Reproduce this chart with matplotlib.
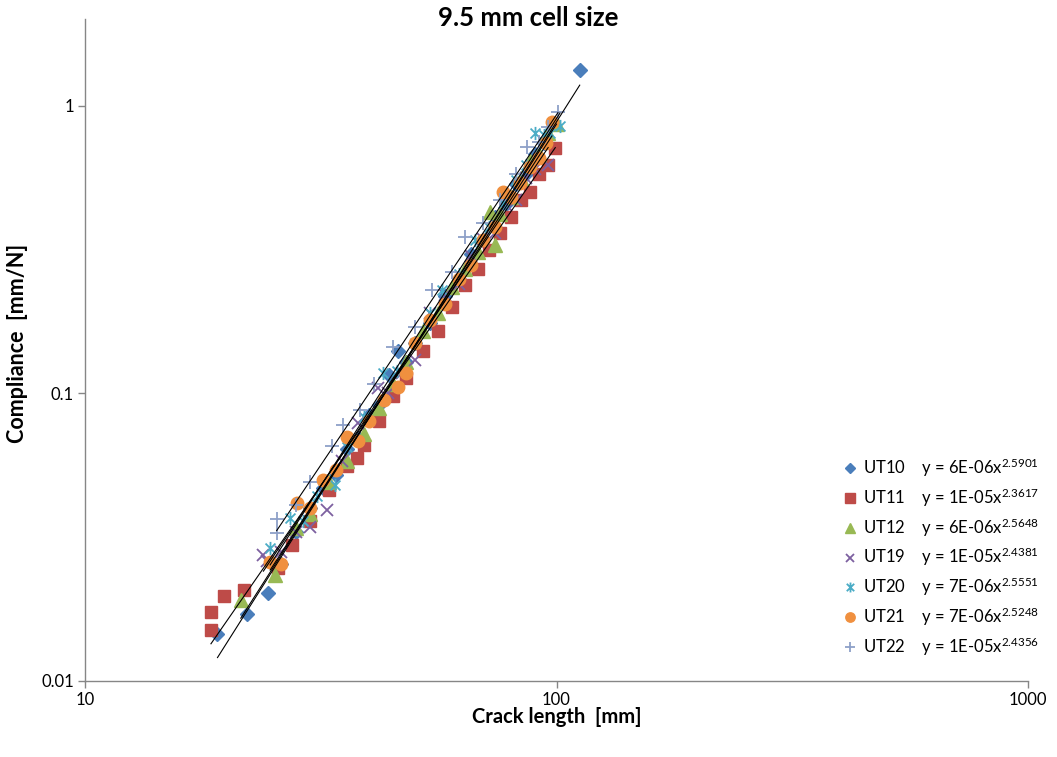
import numpy as np
import matplotlib.pyplot as plt
from matplotlib.path import Path
from matplotlib.ticker import FixedLocator, FixedFormatter, NullLocator

plt.rcParams['font.family'] = ['Lato', 'DejaVu Sans']

# crack length [mm] / compliance [mm/N] for each specimen
ut10_a = [19.1, 22.1, 24.4, 26, 28, 30, 32, 34, 36, 38, 40, 42, 44.1, 46.1, 48, 50, 54, 58, 62, 66, 70, 74, 78, 82, 86, 90, 94, 112]
ut10_c = [0.0146, 0.0171, 0.0202, 0.0255, 0.033, 0.040, 0.047, 0.052, 0.064, 0.070, 0.084, 0.091, 0.116, 0.1406,
          0.128, 0.150, 0.175, 0.218, 0.25, 0.305, 0.342, 0.41, 0.455, 0.535, 0.58, 0.68, 0.74, 1.33]

ut11_a = [18.5, 18.5, 19.7, 21.7, 25.7, 27.5, 30, 33, 36, 37.8, 39, 42, 45, 48, 52, 56, 60, 64, 68, 72, 76, 80, 84, 88, 92, 96, 99.4]
ut11_c = [0.0150, 0.0174, 0.0198, 0.0207, 0.0247, 0.0297, 0.036, 0.046, 0.056, 0.0597, 0.066, 0.080, 0.098, 0.113,
          0.140, 0.165, 0.200, 0.238, 0.270, 0.315, 0.36, 0.41, 0.47, 0.50, 0.58, 0.62, 0.714]

ut12_a = [21.4, 25.3, 28, 30, 33, 36, 39, 42, 45, 48, 52, 56, 60, 64, 68, 72.4, 74.2, 76, 80, 84, 88, 92, 96, 100]
ut12_c = [0.0191, 0.0234, 0.034, 0.038, 0.049, 0.058, 0.072, 0.089, 0.108, 0.128, 0.165, 0.19, 0.235, 0.27, 0.31,
          0.428, 0.3285, 0.42, 0.48, 0.56, 0.64, 0.68, 0.80, 0.86]

ut19_a = [23.9, 24.3, 26, 28, 30, 32.6, 35, 38, 41.8, 44, 47, 50.1, 54, 58, 62, 66, 70, 74, 78, 82, 86, 90, 96]
ut19_c = [0.0274, 0.0262, 0.028, 0.033, 0.0343, 0.0393, 0.058, 0.079, 0.1045, 0.100, 0.118, 0.1307, 0.19, 0.22,
          0.24, 0.30, 0.345, 0.36, 0.45, 0.47, 0.56, 0.60, 0.623]

ut20_a = [24.7, 27.2, 29, 31, 33.9, 36, 39, 42.9, 46, 50, 54, 57.2, 62, 67.1, 72, 77, 82, 86, 90, 94, 97, 101.7]
ut20_c = [0.0291, 0.0369, 0.036, 0.044, 0.048, 0.065, 0.083, 0.118, 0.12, 0.15, 0.19, 0.229, 0.26, 0.342, 0.38,
          0.46, 0.55, 0.62, 0.805, 0.79, 0.80, 0.852]

ut21_a = [24.7, 26, 28.2, 30, 32, 34, 35.9, 38, 40, 43, 46.1, 48, 50, 54, 58, 62, 66, 70, 74, 77, 80, 83.6, 88, 92, 95, 97.8]
ut21_c = [0.0259, 0.0255, 0.0416, 0.040, 0.050, 0.054, 0.0706, 0.068, 0.080, 0.095, 0.1053, 0.118, 0.150, 0.18,
          0.205, 0.25, 0.28, 0.34, 0.38, 0.502, 0.48, 0.54, 0.61, 0.66, 0.74, 0.88]

ut22_a = [25.5, 25.5, 28, 30, 33.4, 35.3, 38.3, 41, 45.0, 50, 54.5, 60, 64.0, 70, 76, 82, 86.6, 92, 96, 100.7]
ut22_c = [0.0366, 0.0327, 0.041, 0.049, 0.0657, 0.0777, 0.0876, 0.108, 0.145, 0.17, 0.229, 0.265, 0.350, 0.39,
          0.47, 0.58, 0.720, 0.75, 0.84, 0.953]

names = ['UT10', 'UT11', 'UT12', 'UT19', 'UT20', 'UT21', 'UT22']
lengths = [ut10_a, ut11_a, ut12_a, ut19_a, ut20_a, ut21_a, ut22_a]
compliances = [ut10_c, ut11_c, ut12_c, ut19_c, ut20_c, ut21_c, ut22_c]

# power trend lines  C = k * a^n
fit_k = [5.8e-6, 1.37e-5, 6.4e-6, 1.05e-5, 7.0e-6, 7.4e-6, 1.25e-5]
fit_n = [2.5901, 2.3617, 2.5648, 2.4381, 2.5551, 2.5248, 2.4356]

# asterisk marker: vertical bar + two diagonals
star = Path([(0, -1), (0, 1), (-0.75, -0.75), (0.75, 0.75), (-0.75, 0.75), (0.75, -0.75)],
            [Path.MOVETO, Path.LINETO] * 3)

styles = [
    dict(marker='D', ms=7.4, color='#4A7EBB', mec='#4A7EBB'),
    dict(marker='s', ms=9, color='#BE4B48', mec='#BE4B48'),
    dict(marker='^', ms=9.5, color='#98B954', mec='#98B954'),
    dict(marker='x', ms=8, color='#7D60A0', mew=1.3),
    dict(marker=star, ms=9.5, color='#4BACC6', mec='#4BACC6', mew=1.3),
    dict(marker='o', ms=9, color='#F0903F', mec='#F0903F'),
    dict(marker='+', ms=10, color='#8EA0C8', mew=1.3),
]

fig = plt.figure(figsize=(10.57, 7.57), dpi=100)
ax = fig.add_axes([0.0804, 0.1004, 0.8922, 0.8745])

for name, a, c, st, k, n in zip(names, lengths, compliances, styles, fit_k, fit_n):
    label = name + '    y = ' + ('%.0E' % k) + 'x' + r'$\mathregular{^{' + ('%.4f' % n) + '}}$'
    ax.plot(a, c, linestyle='none', label=label, **st)

# trend lines over the markers, each spanning its own data range
for a, k, n in zip(lengths, fit_k, fit_n):
    xs = np.array([min(a), max(a)])
    ax.plot(xs, k * xs ** n, color='black', lw=0.8, zorder=5)

ax.set_xscale('log')
ax.set_yscale('log')
ax.set_xlim(10, 1000)
ax.set_ylim(0.01, 2.0)

ax.xaxis.set_major_locator(FixedLocator([10, 100, 1000]))
ax.xaxis.set_major_formatter(FixedFormatter(['10', '100', '1000']))
ax.yaxis.set_major_locator(FixedLocator([0.01, 0.1, 1]))
ax.yaxis.set_major_formatter(FixedFormatter(['0.01', '0.1', '1']))
ax.xaxis.set_minor_locator(NullLocator())
ax.yaxis.set_minor_locator(NullLocator())

for s in ['top', 'right']:
    ax.spines[s].set_visible(False)
for s in ['left', 'bottom']:
    ax.spines[s].set_color('#868686')
    ax.spines[s].set_linewidth(1.0)
ax.tick_params(axis='both', length=5, width=1.0, color='#868686', labelsize=12, pad=3)

ax.set_xlabel('Crack length  [mm]', fontsize=14.5, fontweight='bold')
ax.set_ylabel('Compliance  [mm/N]', fontsize=15.5, fontweight='bold')
ax.xaxis.set_label_coords(0.5, -0.04)
ax.yaxis.set_label_coords(-0.06, 0.51)

fig.text(0.5, 0.976, '9.5 mm cell size', ha='center', va='center', fontsize=18.5, fontweight='bold')

ax.legend(loc='center left', bbox_to_anchor=(0.804, 0.187), frameon=False, fontsize=12,
          handlelength=0.8, handletextpad=0.4, labelspacing=0.45, markerscale=0.75,
          borderpad=0, borderaxespad=0)

fig.savefig('out.png', dpi=100)
